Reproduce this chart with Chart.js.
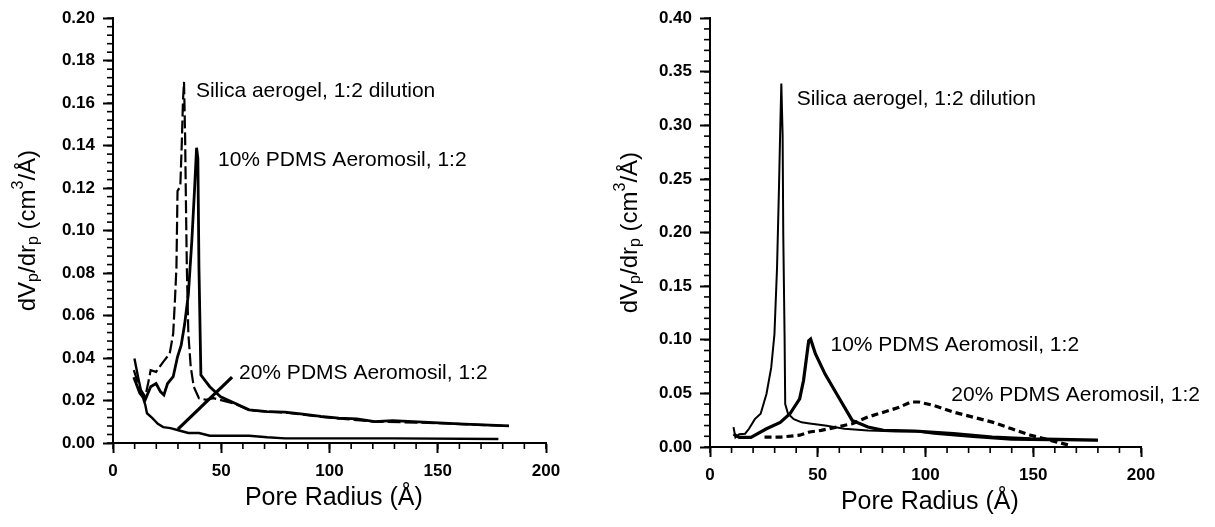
<!DOCTYPE html>
<html>
<head>
<meta charset="utf-8">
<script src="https://cdn.jsdelivr.net/npm/chart.js@4.4.1/dist/chart.umd.min.js"></script>
<style>
    html, body { margin: 0; padding: 0; background: #fff; }
    #wrap { position: relative; width: 1215px; height: 527px; }
    #leftBox { position: absolute; left: 0; top: 0; width: 600px; height: 527px; }
    #rightBox { position: absolute; left: 600px; top: 0; width: 615px; height: 527px; }
</style>
</head>
<body>
<div id="wrap">
    <div id="leftBox"><canvas id="leftChart" width="600" height="527"></canvas></div>
    <div id="rightBox"><canvas id="rightChart" width="615" height="527"></canvas></div>
</div>
<script>
// ---- data ----
const xTicks = [0, 50, 100, 150, 200];
const leftYTicks = [0, 0.02, 0.04, 0.06, 0.08, 0.10, 0.12, 0.14, 0.16, 0.18, 0.20];
const rightYTicks = [0, 0.05, 0.10, 0.15, 0.20, 0.25, 0.30, 0.35, 0.40];

const seriesNames = ['Silica aerogel, 1:2 dilution', '10% PDMS Aeromosil, 1:2', '20% PDMS Aeromosil, 1:2'];

// left panel
const leftSilicaX = [9.6, 12.4, 14.9, 16.2, 17.4, 19.9, 23.2, 26.2, 27.8, 28.6, 29.3, 29.8, 31.1, 31.8, 32.3, 32.8, 33.3, 33.6, 34.1, 34.8, 35.9, 37.3, 39.7, 43.0, 46.4, 56.3, 62.9, 79.5, 96.0, 120.9, 145.7, 182.9];
const leftSilicaY = [0.0343, 0.0257, 0.0218, 0.028, 0.0343, 0.0335, 0.0382, 0.0421, 0.0515, 0.0671, 0.0827, 0.1186, 0.121, 0.142, 0.1607, 0.170, 0.145, 0.120, 0.0827, 0.0515, 0.0359, 0.0265, 0.0211, 0.0203, 0.0211, 0.0185, 0.0154, 0.0143, 0.0123, 0.0100, 0.0095, 0.0080];

const left10X = [9.6, 12.4, 14.9, 17.4, 19.9, 21.9, 23.5, 25.2, 27.8, 29.8, 31.5, 33.1, 34.8, 36.4, 37.7, 38.6, 39.2, 39.7, 40.6, 44.7, 49.7, 56.3, 62.9, 71.2, 79.5, 87.7, 96.0, 104.3, 112.6, 120.9, 129.1, 145.7, 162.3, 182.9];
const left10Y = [0.031, 0.0234, 0.0203, 0.0265, 0.028, 0.0242, 0.0226, 0.028, 0.0312, 0.0406, 0.046, 0.056, 0.070, 0.095, 0.120, 0.139, 0.134, 0.0827, 0.032, 0.0265, 0.0218, 0.0187, 0.0156, 0.0148, 0.0145, 0.0136, 0.0125, 0.0117, 0.0114, 0.0101, 0.0105, 0.0097, 0.0089, 0.0081];

const left20X = [9.9, 11.6, 13.2, 14.9, 15.7, 18.2, 20.7, 23.2, 26.5, 30.6, 34.8, 39.7, 44.7, 53.0, 62.9, 71.2, 79.5, 96.0, 129.1, 178.0];
const left20Y = [0.0398, 0.031, 0.0234, 0.018, 0.014, 0.0117, 0.009, 0.0075, 0.007, 0.0059, 0.0047, 0.0047, 0.0034, 0.0034, 0.0034, 0.0027, 0.0022, 0.0022, 0.0022, 0.0019];

// pointer line from the 20% label down to its curve
const leftPointerX = [30, 55];
const leftPointerY = [0.0065, 0.031];

// right panel
const rightSilicaX = [10.9, 11.8, 13.6, 16.3, 18.1, 20.8, 23.5, 26.2, 28.4, 29.9, 31.1, 32.0, 32.6, 33.1, 33.7, 34.0, 34.6, 34.9, 36.2, 38.9, 42.5, 46.2, 53.4, 62.4, 73.3, 86.0, 95.0, 104.0, 122.0, 140.0, 158.0, 180.0];
const rightSilicaY = [0.0186, 0.009, 0.012, 0.0124, 0.017, 0.026, 0.031, 0.0495, 0.074, 0.105, 0.167, 0.241, 0.297, 0.339, 0.291, 0.198, 0.105, 0.040, 0.031, 0.026, 0.023, 0.022, 0.020, 0.017, 0.0155, 0.0146, 0.0146, 0.0124, 0.0093, 0.0068, 0.0062, 0.0062];

const right10X = [10.9, 13.6, 19.0, 26.2, 32.6, 37.1, 41.6, 43.4, 45.8, 46.7, 48.9, 53.4, 58.8, 66.0, 73.3, 80.5, 95.0, 113.0, 131.0, 149.0, 180.0];
const right10Y = [0.012, 0.009, 0.009, 0.017, 0.023, 0.031, 0.045, 0.062, 0.099, 0.1006, 0.087, 0.068, 0.0495, 0.0248, 0.0186, 0.0155, 0.0149, 0.0124, 0.0093, 0.0077, 0.0065];

const right20X = [25.3, 33.0, 41.6, 46.2, 51.6, 58.8, 66.0, 73.3, 80.5, 87.8, 93.2, 96.8, 104.0, 113.0, 122.0, 131.0, 140.0, 149.0, 158.0, 167.0];
const right20Y = [0.0093, 0.0093, 0.011, 0.014, 0.0155, 0.0186, 0.0217, 0.028, 0.0325, 0.037, 0.042, 0.042, 0.0387, 0.0325, 0.0279, 0.0232, 0.017, 0.0108, 0.0062, 0.0015];

// label anchors (data units)
const leftNoteX = [38.3, 48.5, 58.2];
const leftNoteY = [0.1654, 0.1332, 0.0327];
const rightNoteX = [40.2, 55.9, 112.0];
const rightNoteY = [0.3247, 0.0949, 0.0486];

const FONT = '"Liberation Sans", Arial, Helvetica, sans-serif';

function pts(xs, ys) {
    return xs.map((x, i) => ({ x: x, y: ys[i] }));
}

function lineSet(xs, ys, width, dash) {
    return {
        data: pts(xs, ys),
        borderColor: '#000',
        borderWidth: width,
        borderDash: dash || [],
        pointRadius: 0,
        tension: 0,
        fill: false
    };
}

// minor ticks and texts drawn through the chart's own scales
const decorPlugin = {
    id: 'decor',
    afterDraw(chart, args, opts) {
        const ctx = chart.ctx;
        const xs = chart.scales.x;
        const ys = chart.scales.y;
        const area = chart.chartArea;
        ctx.save();
        ctx.strokeStyle = '#000';
        ctx.lineWidth = 1.6;

        // minor ticks
        for (let v = 0; v <= 200 + 1e-9; v += opts.xMinor) {
            const px = xs.getPixelForValue(v);
            ctx.beginPath();
            ctx.moveTo(px, area.bottom);
            ctx.lineTo(px, area.bottom + 6);
            ctx.stroke();
        }
        for (let v = 0; v <= ys.max + 1e-9; v += opts.yMinor) {
            const py = ys.getPixelForValue(v);
            ctx.beginPath();
            ctx.moveTo(area.left, py);
            ctx.lineTo(area.left - 6, py);
            ctx.stroke();
        }

        ctx.fillStyle = '#000';

        // curve labels
        ctx.font = '21px ' + FONT;
        ctx.textAlign = 'left';
        ctx.textBaseline = 'middle';
        opts.noteX.forEach((nx, i) => {
            ctx.fillText(seriesNames[i], xs.getPixelForValue(nx), ys.getPixelForValue(opts.noteY[i]));
        });

        // x axis title
        ctx.font = '25px ' + FONT;
        ctx.textAlign = 'center';
        ctx.textBaseline = 'middle';
        ctx.fillText('Pore Radius (\u00c5)', xs.getPixelForValue(102), area.bottom + 55);

        // y axis title with sub/superscripts
        const big = '24px ' + FONT;
        const small = '16px ' + FONT;
        const parts = [
            ['dV', big, 0], ['p', small, 6], ['/dr', big, 0], ['p', small, 6],
            [' (cm', big, 0], ['3', small, -9], ['/\u00c5)', big, 0]
        ];
        let total = 0;
        parts.forEach(p => { ctx.font = p[1]; total += ctx.measureText(p[0]).width; });
        ctx.translate(opts.yTitleX, (area.top + area.bottom) / 2);
        ctx.rotate(-Math.PI / 2);
        ctx.textAlign = 'left';
        ctx.textBaseline = 'middle';
        let cx = -total / 2;
        parts.forEach(p => {
            ctx.font = p[1];
            ctx.fillText(p[0], cx, p[2]);
            cx += ctx.measureText(p[0]).width;
        });
        ctx.restore();
    }
};

function makeOptions(yMax, yTicks, yWidth, xHeight, padRight, decor) {
    return {
        responsive: false,
        animation: false,
        layout: { padding: { left: 0, right: padRight, top: 16, bottom: 0 } },
        plugins: {
            legend: { display: false },
            tooltip: { enabled: false },
            decor: decor
        },
        scales: {
            x: {
                type: 'linear',
                min: 0,
                max: 200,
                afterBuildTicks: s => { s.ticks = xTicks.map(v => ({ value: v })); },
                afterFit: s => { s.height = xHeight; },
                border: { display: true, color: '#000', width: 2 },
                grid: { drawOnChartArea: false, drawTicks: true, tickLength: 10, tickWidth: 2, tickColor: '#000' },
                ticks: {
                    color: '#000',
                    padding: 8,
                    maxRotation: 0,
                    autoSkip: false,
                    font: { family: FONT, size: 17, weight: 'bold' },
                    callback: v => String(v)
                }
            },
            y: {
                type: 'linear',
                min: 0,
                max: yMax,
                afterBuildTicks: s => { s.ticks = yTicks.map(v => ({ value: v })); },
                afterFit: s => { s.width = yWidth; },
                border: { display: true, color: '#000', width: 2 },
                grid: { drawOnChartArea: false, drawTicks: true, tickLength: 10, tickWidth: 2, tickColor: '#000' },
                ticks: {
                    color: '#000',
                    padding: 8,
                    autoSkip: false,
                    font: { family: FONT, size: 17, weight: 'bold' },
                    callback: v => Number(v).toFixed(2)
                }
            }
        }
    };
}

new Chart(document.getElementById('leftChart').getContext('2d'), {
    type: 'line',
    data: {
        datasets: [
            lineSet(leftSilicaX, leftSilicaY, 2.2, [13, 4]),
            lineSet(left10X, left10Y, 2.8),
            lineSet(left20X, left20Y, 2.4),
            lineSet(leftPointerX, leftPointerY, 3.2)
        ]
    },
    options: makeOptions(0.2, leftYTicks, 113, 84, 54,
        { xMinor: 10, yMinor: 0.004, noteX: leftNoteX, noteY: leftNoteY, yTitleX: 28 }),
    plugins: [decorPlugin]
});

new Chart(document.getElementById('rightChart').getContext('2d'), {
    type: 'line',
    data: {
        datasets: [
            lineSet(rightSilicaX, rightSilicaY, 2.0),
            lineSet(right10X, right10Y, 3.2),
            lineSet(right20X, right20Y, 3.2, [7, 4])
        ]
    },
    options: makeOptions(0.4, rightYTicks, 110, 80, 74,
        { xMinor: 10, yMinor: 0.01, noteX: rightNoteX, noteY: rightNoteY, yTitleX: 30 }),
    plugins: [decorPlugin]
});
</script>
</body>
</html>
